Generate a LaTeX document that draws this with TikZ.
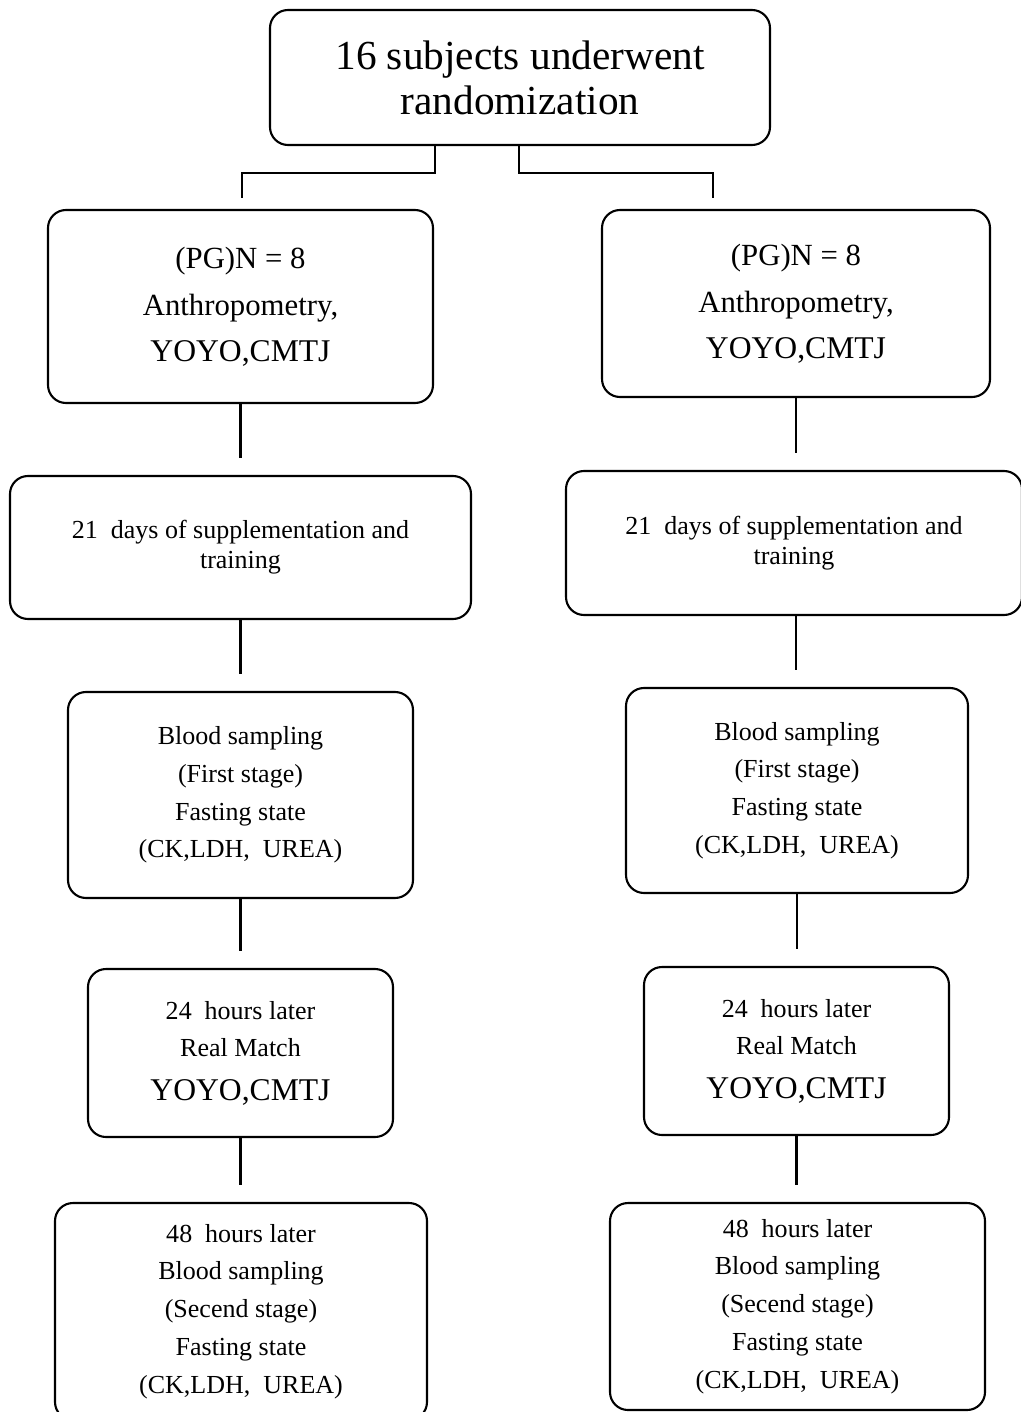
\documentclass[tikz,border=0pt]{standalone}
\usepackage{fontspec}
\setmainfont{Liberation Serif}
\usetikzlibrary{positioning}

\begin{document}
\begin{tikzpicture}[line width=1.2pt,
			box/.style = {draw,rounded corners=0.36cm,align=center,inner sep=0pt},
			huge/.style = {font=\fontsize{23.5}{25.5}\selectfont},
			mid/.style = {font=\fontsize{17.5}{26}\selectfont},
			small/.style = {font=\fontsize{14.8}{21.5}\selectfont},
			tight/.style = {font=\fontsize{14.8}{17}\selectfont}]
			\useasboundingbox (0,0) rectangle (20.4,-28.24);
			\fill[white] (0,0) rectangle (20.4,-28.24);
			% randomization
			\node [box, huge, minimum width=10cm, minimum height=2.7cm] (top) at (10.4,-1.55)
			{16 subjects underwent\\randomization};
			% left branch
			\node [box, mid, minimum width=7.7cm, minimum height=3.86cm] (L1) at (4.81,-6.13)
			{(PG)N = 8\\[1pt]Anthropometry,\\{\fontsize{18}{25}\selectfont YOYO,CMTJ}};
			\node [box, tight, minimum width=9.22cm, minimum height=2.86cm] (L2) at (4.81,-10.95)
			{21\ \ days of supplementation and\\training};
			\node [box, small, minimum width=6.9cm, minimum height=4.12cm] (L3) at (4.81,-15.9)
			{Blood sampling\\(First stage)\\Fasting state\\(CK,LDH,\ \ UREA)};
			\node [box, small, minimum width=6.1cm, minimum height=3.36cm] (L4) at (4.81,-21.06)
			{24\ \ hours later\\Real Match\\[3pt]{\fontsize{18}{24}\selectfont YOYO,CMTJ}};
			\node [box, small, minimum width=7.44cm, minimum height=4.34cm] (L5) at (4.82,-26.23)
			{48\ \ hours later\\Blood sampling\\(Secend stage)\\Fasting state\\(CK,LDH,\ \ UREA)};
			% right branch
			\node [box, mid, minimum width=7.76cm, minimum height=3.74cm] (R1) at (15.92,-6.07)
			{(PG)N = 8\\[1pt]Anthropometry,\\{\fontsize{18}{25}\selectfont YOYO,CMTJ}};
			\node [box, tight, minimum width=9.12cm, minimum height=2.88cm] (R2) at (15.88,-10.86)
			{21\ \ days of supplementation and\\training};
			\node [box, small, minimum width=6.84cm, minimum height=4.1cm] (R3) at (15.94,-15.81)
			{Blood sampling\\(First stage)\\Fasting state\\(CK,LDH,\ \ UREA)};
			\node [box, small, minimum width=6.1cm, minimum height=3.36cm] (R4) at (15.93,-21.02)
			{24\ \ hours later\\Real Match\\[3pt]{\fontsize{18}{24}\selectfont YOYO,CMTJ}};
			\node [box, small, minimum width=7.5cm, minimum height=4.14cm] (R5) at (15.95,-26.13)
			{48\ \ hours later\\Blood sampling\\(Secend stage)\\Fasting state\\(CK,LDH,\ \ UREA)};
			% split
			\coordinate (lj) at (4.84,-3.96);
			\coordinate (rj) at (14.26,-3.96);
			\draw ([xshift=-1.7cm]top.south) -- ++(0,-0.54) -| (lj);
			\draw ([xshift=-0.02cm]top.south) -- ++(0,-0.54) -| (rj);
			% links
			\foreach \a/\b in {L1/L2,L2/L3,L3/L4,L4/L5,R1/R2,R3/R4,R4/R5}
			\draw (\a.south) -- ([yshift=0.34cm]\a.south |- \b.north);
			\draw (R1.south |- R2.south) -- ([yshift=0.34cm]R1.south |- R3.north);
		\end{tikzpicture}
\end{document}
